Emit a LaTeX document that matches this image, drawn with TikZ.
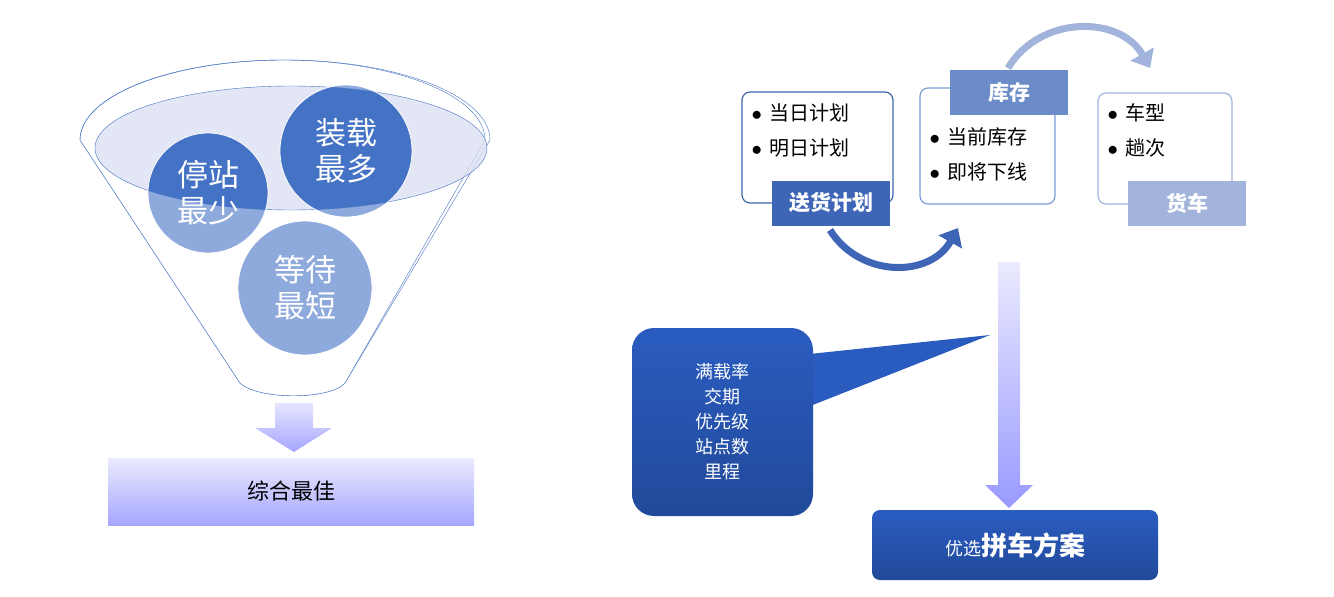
\documentclass[tikz,border=0pt]{standalone}
\usepackage{fontspec}
\setmainfont{Noto Sans CJK SC}
\usetikzlibrary{arrows.meta,calc,positioning,shapes}
\definecolor{darkblue}{HTML}{4472C4}
\definecolor{lightblue}{HTML}{8EA9DB}
\definecolor{lavender}{HTML}{DCE0F2}
\definecolor{planblue}{HTML}{3F66B6}
\definecolor{stockblue}{HTML}{6B8BC9}
\definecolor{truckblue}{HTML}{A2B4DC}
\definecolor{callblue}{HTML}{2A5CC0}
\tikzset{
  goal/.style={circle,draw=white,thick,text=white,align=center,font=\fontsize{31}{36}\selectfont},
  infobox/.style={rounded corners=8pt,line width=1.2pt,fill=white},
  tag/.style={minimum width=118pt,minimum height=45pt,text=white,font=\fontsize{21}{24}\selectfont\bfseries},
  item/.style={anchor=west,font=\fontsize{20}{24}\selectfont},
  bigarrow/.style={-{Triangle[length=16pt,width=26pt]},line width=7pt},
}
\newcommand{\bl}{$\bullet$\hspace{8pt}}
\begin{document}
\begin{tikzpicture}[x=1pt,y=-1pt]
\useasboundingbox (0,0) rectangle (1334,597);
% funnel
\draw[darkblue,thin] (80,140) arc[start angle=180,end angle=360,x radius=205,y radius=80]
  -- (345,383) .. controls (330,400) and (258,400) .. (240,383) -- cycle;
\fill[white] (80,140) -- (240,383) .. controls (258,400) and (330,400) .. (345,383) -- (485,140) -- cycle;
\draw[darkblue,thin] (80,140) arc[start angle=180,end angle=360,x radius=202.5,y radius=80];
\draw[darkblue,thin] (80,140) -- (240,383) .. controls (258,400) and (330,400) .. (345,383) -- (485,140);
\fill[lavender,opacity=0.8] (291,148) ellipse[x radius=196,y radius=62];
\fill[lightblue] (208,193) circle[radius=60];
\fill[lightblue] (346,151) circle[radius=66];
\begin{scope}
  \clip (291,148) ellipse[x radius=196,y radius=62];
  \fill[darkblue] (208,193) circle[radius=60];
  \fill[darkblue] (346,151) circle[radius=66];
\end{scope}
\draw[darkblue] (291,148) ellipse[x radius=196,y radius=62];
\node[goal,minimum size=120pt] (stop) at (208,193) {停站\\最少};
\node[goal,minimum size=132pt] (load) at (346,151) {装载\\最多};
\node[goal,fill=lightblue,minimum size=134pt] (wait) at (305,288) {等待\\最短};
% arrow to result
\shade[top color=blue!10,bottom color=blue!35] (275,403) -- (313,403) -- (313,428) -- (332,428)
  -- (294,452) -- (255,428) -- (275,428) -- cycle;
\shade[top color=blue!8,bottom color=blue!35] (108,458) rectangle (474,525);
\node[font=\fontsize{22}{26}\selectfont] (best) at (291,491) {综合最佳};
% right: three boxes
\draw[infobox,draw=darkblue!90!black] (742,92) rectangle (893,203);
\draw[infobox,draw=darkblue!70] (920,88) rectangle (1055,204);
\draw[infobox,draw=truckblue] (1098,93) rectangle (1232,204);
\node[item] (p1) at (748,113) {\bl 当日计划};
\node[item] (p2) at (748,148) {\bl 明日计划};
\node[item] (s1) at (926,137) {\bl 当前库存};
\node[item] (s2) at (926,172) {\bl 即将下线};
\node[item] (t1) at (1104,113) {\bl 车型};
\node[item] (t2) at (1104,148) {\bl 趟次};
\node[tag,fill=planblue] (plan) at (831,203) {送货计划};
\node[tag,fill=stockblue] (stock) at (1009,92) {库存};
\node[tag,fill=truckblue] (truck) at (1187,203) {货车};
\draw[bigarrow,planblue] (830,230) .. controls (860,278) and (930,278) .. (958,228);
\draw[bigarrow,truckblue] (1008,68) .. controls (1040,15) and (1120,15) .. (1150,68);
% constraints to plan
\shade[top color=blue!8,bottom color=blue!40] (998,262) -- (1020,262) -- (1020,485) -- (1033,485)
  -- (1009,508) -- (985,485) -- (998,485) -- cycle;
\fill[callblue] (800,355) -- (990,335) -- (800,410) -- cycle;
\shade[top color=callblue,bottom color=callblue!80!black,rounded corners=22pt] (632,328) rectangle (813,516);
\node[text=white,align=center,font=\fontsize{18}{25}\selectfont] (rules) at (722,422)
  {满载率\\交期\\优先级\\站点数\\里程};
\shade[top color=callblue,bottom color=callblue!80!black,rounded corners=8pt] (872,510) rectangle (1158,580);
\node[text=white] (plan2) at (1015,545) {\fontsize{18}{22}\selectfont 优选\fontsize{26}{30}\selectfont\bfseries 拼车方案};
\end{tikzpicture}
\end{document}
